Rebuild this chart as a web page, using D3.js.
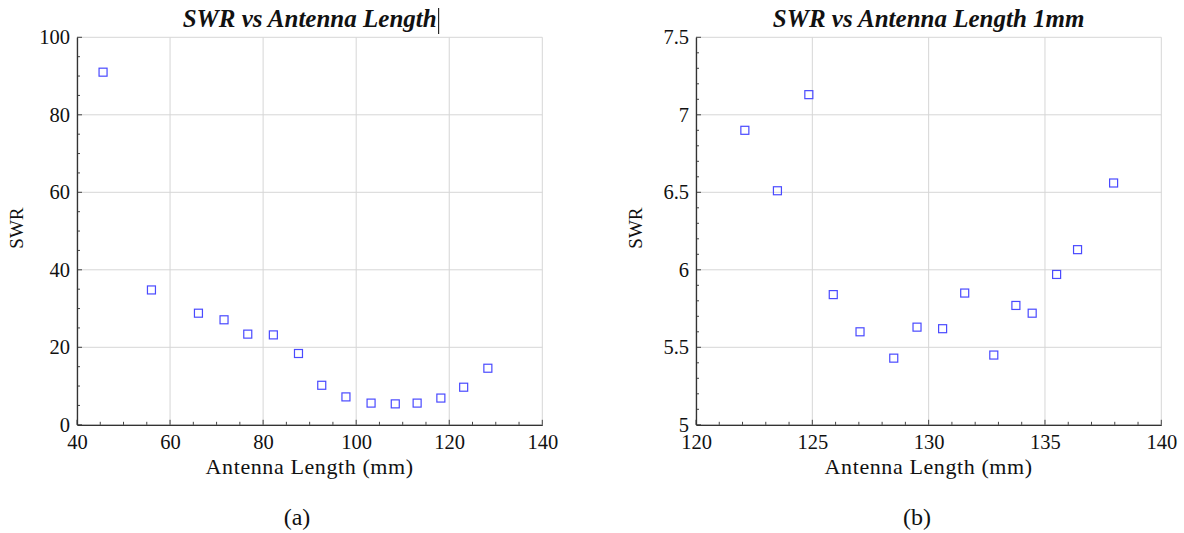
<!DOCTYPE html>
<html>
<head>
<meta charset="utf-8">
<script src="https://cdn.jsdelivr.net/npm/d3@7"></script>
<style>
  body { margin: 0; background: #fff; }
  svg { display: block; }
  svg text { font-family: "Liberation Serif", "DejaVu Serif", serif !important; fill: #111; }
</style>
</head>
<body>
<svg id="main-canvas" width="1184" height="533"></svg>
<script>
// panel (a): full sweep
var lengthA = [45.6, 56.0, 66.1, 71.6, 76.7, 82.2, 87.6, 92.6, 97.8, 103.2, 108.4, 113.1, 118.2, 123.1, 128.3]
var swrA    = [91.0, 34.8, 28.8, 27.1, 23.4, 23.2, 18.4, 10.2, 7.2, 5.6, 5.4, 5.6, 6.9, 9.7, 14.6]
var xTicksA = [40, 60, 80, 100, 120, 140]
var yTicksA = [0, 20, 40, 60, 80, 100]

// panel (b): 1mm steps
var lengthB = [122.1, 123.5, 124.85, 125.9, 127.05, 128.5, 129.5, 130.6, 131.55, 132.8, 133.75, 134.45, 135.5, 136.4, 137.95]
var swrB    = [6.90, 6.51, 7.13, 5.84, 5.60, 5.43, 5.63, 5.62, 5.85, 5.45, 5.77, 5.72, 5.97, 6.13, 6.56]
var xTicksB = [120, 125, 130, 135, 140]
var yTicksB = [5, 5.5, 6, 6.5, 7, 7.5]

var svg = d3.select("#main-canvas")

function drawPanel(p) {
    var g = svg.append("g").attr("class", "panel")

    var x = d3.scaleLinear().domain(p.xDomain).range([p.left, p.right])
    var y = d3.scaleLinear().domain(p.yDomain).range([p.bottom, p.top])

    // grid
    g.append("g").selectAll("line").data(p.xTicks).join("line")
        .attr("x1", d => x(d)).attr("x2", d => x(d))
        .attr("y1", p.top).attr("y2", p.bottom)
        .attr("stroke", "#d6d6d6").attr("stroke-width", 1)
    g.append("g").selectAll("line").data(p.yTicks).join("line")
        .attr("x1", p.left).attr("x2", p.right)
        .attr("y1", d => y(d)).attr("y2", d => y(d))
        .attr("stroke", "#d6d6d6").attr("stroke-width", 1)

    // minor ticks, pointing inwards
    var xMinor = d3.range(p.xDomain[0], p.xDomain[1] + 1e-9, p.xMinor)
    var yMinor = d3.range(p.yDomain[0], p.yDomain[1] + 1e-9, p.yMinor)
    g.append("g").selectAll("line").data(xMinor).join("line")
        .attr("x1", d => x(d)).attr("x2", d => x(d))
        .attr("y1", p.bottom).attr("y2", d => p.bottom - (p.xTicks.some(t => Math.abs(t - d) < 1e-6) ? 5 : 3))
        .attr("stroke", "#444").attr("stroke-width", 1)
    g.append("g").selectAll("line").data(yMinor).join("line")
        .attr("y1", d => y(d)).attr("y2", d => y(d))
        .attr("x1", p.left).attr("x2", d => p.left + (p.yTicks.some(t => Math.abs(t - d) < 1e-6) ? 5 : 3))
        .attr("stroke", "#444").attr("stroke-width", 1)

    // axes (only left and bottom are dark)
    var xAxis = d3.axisBottom(x).tickValues(p.xTicks).tickSize(0).tickPadding(10).tickFormat(d3.format("d"))
    var yAxis = d3.axisLeft(y).tickValues(p.yTicks).tickSize(0).tickPadding(7).tickFormat(d => d3.format("")(d))
    var gx = g.append("g").attr("transform", "translate(0," + p.bottom + ")").call(xAxis)
    var gy = g.append("g").attr("transform", "translate(" + p.left + ",0)").call(yAxis)
    gx.attr("font-family", null)
    gy.attr("font-family", null)
    gx.select(".domain").attr("stroke", "#333").attr("stroke-width", 1.3)
    gy.select(".domain").attr("stroke", "#333").attr("stroke-width", 1.3)
    gx.selectAll("text").attr("font-size", 20.5).attr("fill", "#111")
    gy.selectAll("text").attr("font-size", 20.5).attr("fill", "#111")

    // markers
    var s = 8
    g.append("g").selectAll("rect").data(p.xs).join("rect")
        .attr("x", (d, i) => x(d) - s / 2)
        .attr("y", (d, i) => y(p.ys[i]) - s / 2)
        .attr("width", s).attr("height", s)
        .attr("fill", "none").attr("stroke", "#4a4aff").attr("stroke-width", 1.2)

    var cx = (p.left + p.right) / 2

    // title
    var title = g.append("text")
        .attr("x", cx).attr("y", 27)
        .attr("text-anchor", "middle")
        .attr("font-size", 25).attr("font-weight", "bold").attr("font-style", "italic")
        .text(p.title)
    if (p.caret) {
        var bb = title.node().getBBox()
        g.append("line")
            .attr("x1", bb.x + bb.width + 2).attr("x2", bb.x + bb.width + 2)
            .attr("y1", 8).attr("y2", 34)
            .attr("stroke", "#000").attr("stroke-width", 1)
    }

    // axis labels
    g.append("text")
        .attr("x", cx).attr("y", 474)
        .attr("text-anchor", "middle")
        .attr("font-size", 22)
        .attr("letter-spacing", 0.6)
        .text("Antenna Length (mm)")
    g.append("text")
        .attr("transform", "translate(" + (p.left - 54) + "," + ((p.top + p.bottom) / 2 - 3) + ") rotate(-90)")
        .attr("text-anchor", "middle")
        .attr("font-size", 19)
        .text("SWR")

    // sub caption
    g.append("text")
        .attr("x", p.capX).attr("y", 525)
        .attr("text-anchor", "middle")
        .attr("font-size", 24)
        .text(p.caption)
}

drawPanel({
    xs: lengthA, ys: swrA, xTicks: xTicksA, yTicks: yTicksA,
    xDomain: [40, 140], yDomain: [0, 100], xMinor: 5, yMinor: 5,
    left: 77, right: 542.3, top: 37.3, bottom: 424.8,
    title: "SWR vs Antenna Length", caret: true, caption: "(a)", capX: 297
})

drawPanel({
    xs: lengthB, ys: swrB, xTicks: xTicksB, yTicks: yTicksB,
    xDomain: [120, 140], yDomain: [5, 7.5], xMinor: 1, yMinor: 0.1,
    left: 696, right: 1161.3, top: 37.3, bottom: 424.8,
    title: "SWR vs Antenna Length 1mm", caret: false, caption: "(b)", capX: 917
})
</script>
</body>
</html>
